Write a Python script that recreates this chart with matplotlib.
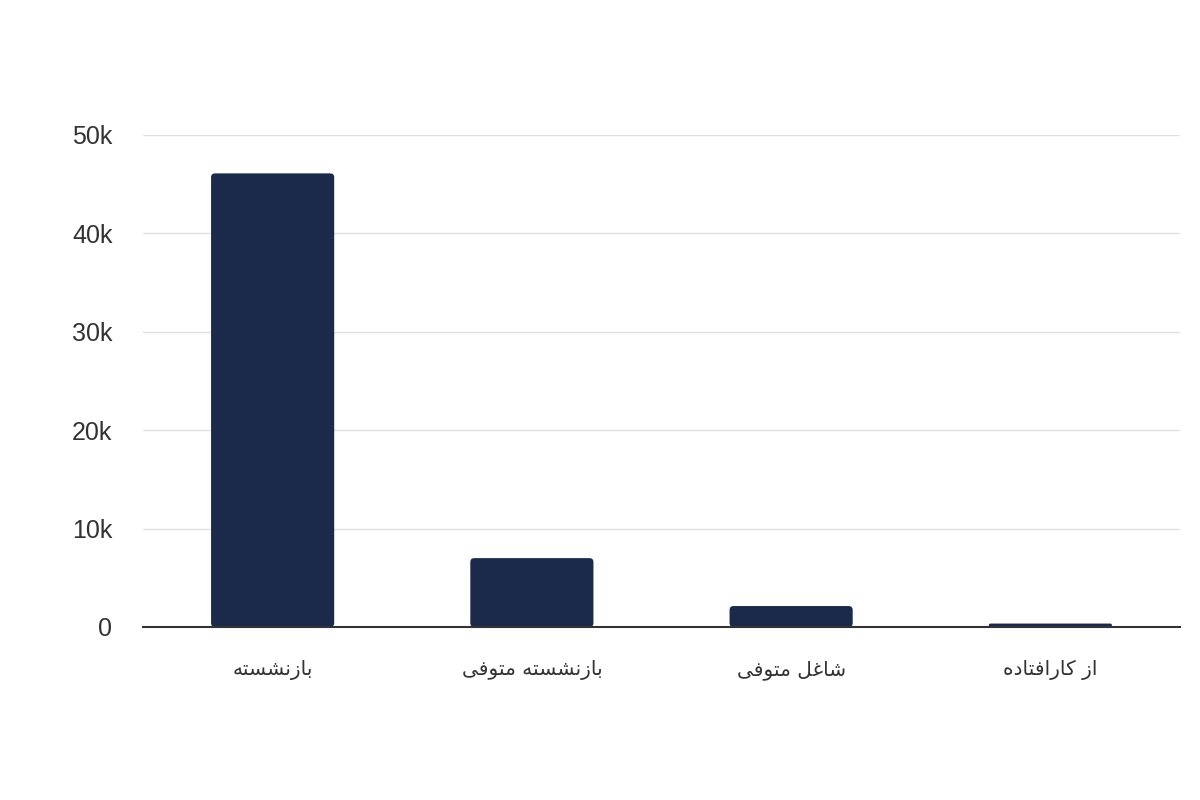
import matplotlib
matplotlib.use("Agg")
import matplotlib.pyplot as plt
from matplotlib.patches import FancyBboxPatch
from matplotlib.ticker import FuncFormatter

categories = ["بازنشسته", "بازنشسته متوفی", "شاغل متوفی", "از کارافتاده"]
values = [46100, 7000, 2130, 350]
y_ticks = [0, 10000, 20000, 30000, 40000, 50000]

BAR_COLOR = "#1b2a4b"

# minimal Persian shaping: (isolated, final, initial, medial)
FORMS = {
    "ا": ("\ufe8d", "\ufe8e", None, None),
    "د": ("\ufea9", "\ufeaa", None, None),
    "ز": ("\ufeaf", "\ufeb0", None, None),
    "و": ("\ufeed", "\ufeee", None, None),
    "ب": ("\ufe8f", "\ufe90", "\ufe91", "\ufe92"),
    "ت": ("\ufe95", "\ufe96", "\ufe97", "\ufe98"),
    "س": ("\ufeb1", "\ufeb2", "\ufeb3", "\ufeb4"),
    "ش": ("\ufeb5", "\ufeb6", "\ufeb7", "\ufeb8"),
    "غ": ("\ufecd", "\ufece", "\ufecf", "\ufed0"),
    "ف": ("\ufed1", "\ufed2", "\ufed3", "\ufed4"),
    "ل": ("\ufedd", "\ufede", "\ufedf", "\ufee0"),
    "م": ("\ufee1", "\ufee2", "\ufee3", "\ufee4"),
    "ن": ("\ufee5", "\ufee6", "\ufee7", "\ufee8"),
    "ه": ("\ufee9", "\ufeea", "\ufeeb", "\ufeec"),
    "ی": ("\ufbfc", "\ufbfd", "\ufbfe", "\ufbff"),
    "ک": ("\ufb8e", "\ufb8f", "\ufb90", "\ufb91"),
}


def shape_rtl(text):
    out = []
    for i, ch in enumerate(text):
        if ch not in FORMS:
            out.append(ch)
            continue
        prev = text[i - 1] if i > 0 else None
        nxt = text[i + 1] if i + 1 < len(text) else None
        joins_prev = prev in FORMS and FORMS[prev][2] is not None
        joins_next = FORMS[ch][2] is not None and nxt in FORMS
        iso, fin, ini, med = FORMS[ch]
        if joins_prev and joins_next:
            out.append(med)
        elif joins_prev:
            out.append(fin)
        elif joins_next:
            out.append(ini)
        else:
            out.append(iso)
    return "".join(reversed(out))


plt.rcParams["font.family"] = ["Liberation Sans", "DejaVu Sans"]

fig = plt.figure(figsize=(12, 8), dpi=100)
ax = fig.add_axes([143 / 1200, 1 - 627 / 800, (1180 - 143) / 1200, (627 - 135) / 800])

x = list(range(len(categories)))
bars = ax.bar(x, values, width=0.475, color=BAR_COLOR, zorder=3)

# swap the plain rectangles for slightly rounded ones
px_x = 1037 / 4          # pixels per x unit
px_y = 492 / 50000       # pixels per y unit
aspect = px_x / px_y
for b in bars:
    bx, by = b.get_x(), b.get_y()
    bw, bh = b.get_width(), b.get_height()
    r = min(4 / px_x, bh / aspect / 2)
    b.set_visible(False)
    ax.add_patch(FancyBboxPatch((bx, by), bw, bh,
                                boxstyle=f"round,pad=0,rounding_size={r}",
                                mutation_aspect=aspect,
                                facecolor=BAR_COLOR, edgecolor="none", zorder=3))

ax.set_xlim(-0.5, 3.5)
ax.set_ylim(0, 50000)
ax.set_yticks(y_ticks)
ax.yaxis.set_major_formatter(FuncFormatter(lambda v, p: "0" if v == 0 else f"{int(v / 1000)}k"))
ax.set_xticks(x)
ax.set_xticklabels([shape_rtl(c) for c in categories], fontsize=14.5,
                   family=["DejaVu Sans"], color="#333333")

ax.grid(axis="y", color="#e0e0e0", linewidth=1, zorder=0)
ax.tick_params(axis="y", length=0, pad=22, labelsize=18, labelcolor="#333333")
ax.tick_params(axis="x", length=0, pad=24)

for side in ["top", "right", "left"]:
    ax.spines[side].set_visible(False)
ax.spines["bottom"].set_color("#333333")
ax.spines["bottom"].set_linewidth(1.5)
ax.spines["bottom"].set_zorder(4)

fig.savefig("out.png", dpi=100)
